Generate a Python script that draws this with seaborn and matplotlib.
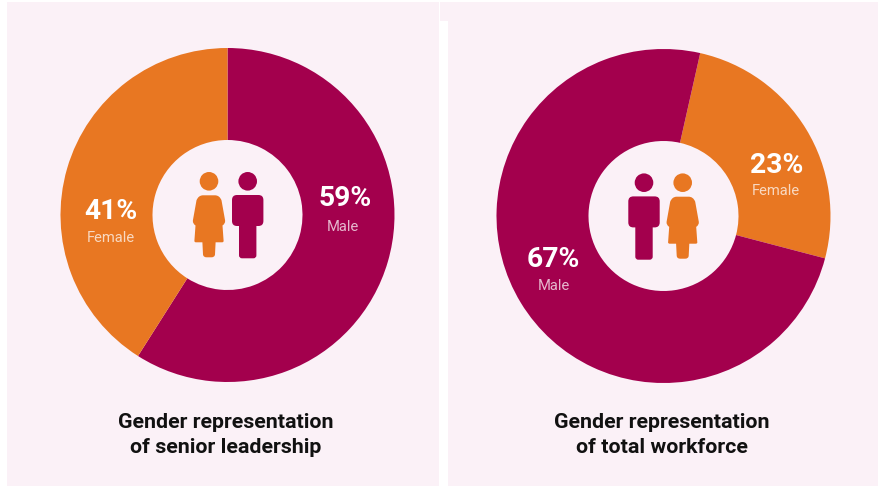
import matplotlib
matplotlib.use("Agg")
import matplotlib.pyplot as plt
from matplotlib.patches import Circle, FancyBboxPatch, PathPatch, Rectangle
from matplotlib.path import Path
import seaborn as sns

# Gender split for each donut, in drawing order
leadership_labels = ["Male", "Female"]
leadership_values = [59, 41]
workforce_labels = ["Female", "Male"]
workforce_values = [23, 67]
leadership_title = "Gender representation\nof senior leadership"
workforce_title = "Gender representation\nof total workforce"

W, H = 879, 486
MAGENTA = "#A3004D"
ORANGE = "#E87722"
PANEL = "#FBF1F7"
COLORS = {"Male": MAGENTA, "Female": ORANGE}
RADIUS = 167
HOLE = 75

sns.set_theme(style="white")
plt.rcParams["font.family"] = ["Roboto", "DejaVu Sans"]

fig = plt.figure(figsize=(W / 100, H / 100), dpi=100, facecolor="white")

# Overlay in pixel coordinates for panels, icons and text
canvas = fig.add_axes([0, 0, 1, 1], zorder=0)
canvas.set_xlim(0, W)
canvas.set_ylim(H, 0)
canvas.axis("off")
overlay = fig.add_axes([0, 0, 1, 1], zorder=5)
overlay.set_xlim(0, W)
overlay.set_ylim(H, 0)
overlay.axis("off")
overlay.patch.set_alpha(0)

for x, y, w, h in [(7, 2, 432, 484), (440, 2, 439, 19), (448, 21, 431, 465)]:
    canvas.add_patch(Rectangle((x, y), w, h, fc=PANEL, ec="none"))


def donut(cx, cy, labels, values, startangle):
    ax = fig.add_axes(
        [(cx - RADIUS) / W, 1 - (cy + RADIUS) / H, 2 * RADIUS / W, 2 * RADIUS / H],
        zorder=2,
    )
    ax.pie(
        values,
        colors=[COLORS[k] for k in labels],
        startangle=startangle,
        counterclock=False,
        radius=1,
        wedgeprops={"width": 1 - HOLE / RADIUS, "linewidth": 0},
    )
    ax.set_xlim(-1, 1)
    ax.set_ylim(-1, 1)
    ax.patch.set_alpha(0)


def man(x, y):
    overlay.add_patch(Circle((x, y), 9.3, fc=MAGENTA, ec="none"))
    overlay.add_patch(FancyBboxPatch((x - 10.7, y + 18.7), 21.4, 21, fc=MAGENTA, ec="none",
                                     boxstyle="round,pad=5,rounding_size=5"))
    overlay.add_patch(FancyBboxPatch((x - 5.7, y + 30), 11.4, 44, fc=MAGENTA, ec="none",
                                     boxstyle="round,pad=3,rounding_size=3"))


def woman(x, y):
    overlay.add_patch(Circle((x, y), 9.3, fc=ORANGE, ec="none"))
    right = [(6, 14), (10.5, 14), (12.5, 19), (16, 38.5), (16.8, 42), (13.5, 44.2), (14.6, 59.5),
             (14.8, 61), (13, 61), (6.6, 61), (6, 73), (5.8, 76), (2.5, 76)]
    left = [(-a, b) for a, b in reversed(right)]
    pts = right + left
    kinds = [Path.LINETO, Path.CURVE3, Path.CURVE3, Path.LINETO, Path.CURVE3, Path.CURVE3, Path.LINETO,
             Path.CURVE3, Path.CURVE3, Path.LINETO, Path.LINETO, Path.CURVE3, Path.CURVE3]
    kinds_left = [Path.LINETO, Path.CURVE3, Path.CURVE3, Path.LINETO, Path.LINETO, Path.CURVE3, Path.CURVE3,
                  Path.LINETO, Path.CURVE3, Path.CURVE3, Path.LINETO, Path.CURVE3, Path.CURVE3]
    verts = [(x - 6, y + 14)] + [(x + a, y + b) for a, b in pts] + [(x - 6, y + 14)]
    codes = [Path.MOVETO] + kinds + kinds_left + [Path.CLOSEPOLY]
    overlay.add_patch(PathPatch(Path(verts, codes), fc=ORANGE, ec="none"))


def callout(x, y, value, label, lx, ly):
    overlay.text(x, y, f"{value}%", color="white", fontsize=20.3, fontweight="bold",
                 ha="center", va="center")
    overlay.text(lx, ly, label, color="white", alpha=0.72, fontsize=10.6,
                 ha="center", va="center")


donut(227.5, 215, leadership_labels, leadership_values, 90)
donut(663.5, 216, workforce_labels, workforce_values, 77.3)

woman(209, 181.3)
man(247.7, 181.3)
man(644, 182.7)
woman(682.7, 182.7)

callout(111, 211, leadership_values[1], leadership_labels[1], 111, 238)
callout(345.5, 198, leadership_values[0], leadership_labels[0], 343, 227)
callout(777, 165, workforce_values[0], workforce_labels[0], 776, 191)
callout(553, 259, workforce_values[1], workforce_labels[1], 554, 286)

for x, title in [(226, leadership_title), (662, workforce_title)]:
    overlay.text(x, 434.5, title, color="#111111", fontsize=15.4, fontweight="bold",
                 ha="center", va="center", linespacing=1.4)

fig.savefig("out.png", dpi=100)
